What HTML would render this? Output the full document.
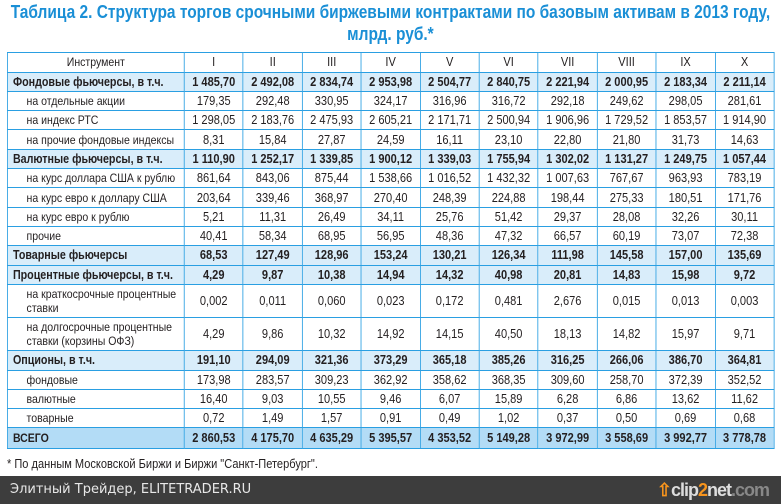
<!DOCTYPE html>
<html><head><meta charset="utf-8">
<style>
*{margin:0;padding:0;box-sizing:border-box}
body{width:781px;height:504px;background:#fff;position:relative;overflow:hidden;font-family:"Liberation Sans",sans-serif;color:#231f20}
.t{position:absolute;left:0;width:908px;transform:scaleX(0.86);transform-origin:0 0;text-align:center;color:#1a8fd6;font-weight:bold;font-size:18px;line-height:22px;top:1px;white-space:nowrap}
table{position:absolute;left:7px;top:52px;border-collapse:collapse;table-layout:fixed;width:902px;font-size:13px;transform:scaleX(0.85);transform-origin:0 0}
td{border:1px solid #2a9fe2;text-align:center;height:19.2px;padding:0;line-height:14px;white-space:nowrap;overflow:hidden}
td:first-child{text-align:left;padding-left:22px;font-size:12.4px}
tr.hd td{height:19.5px}
tr.h td{background:#d9edfa;font-weight:bold;height:19.6px}
tr.h td:first-child{padding-left:6px;font-size:12.6px}
tr.hd td:first-child{text-align:center;padding-left:0}
tr.tot td{background:#b3dcf6;font-weight:bold;height:21px}
tr.tot td:first-child{padding-left:6px}
tr.two td{height:33px}
.fn{position:absolute;left:7px;top:456px;font-size:13px;transform:scaleX(0.85);transform-origin:0 0;white-space:nowrap}
.bar{position:absolute;left:0;top:476px;width:781px;height:28px;background:#3d3d3d;color:#e8e8e8;font-family:"DejaVu Sans",sans-serif;font-size:13px;line-height:28px;padding-left:10px}
.logo{position:absolute;right:12px;top:0;font-family:"Liberation Sans",sans-serif;font-weight:bold;font-size:18px;color:#ddd;letter-spacing:-1px}
.logo b{color:#f7941d}
.logo span{color:#888}
</style></head><body>
<div class="t">Таблица 2. Структура торгов срочными биржевыми контрактами по базовым активам в 2013 году,<br>млрд. руб.*</div>
<table>
<colgroup><col style="width:208px"><col span="10" style="width:69.4px"></colgroup>
<tr class="hd"><td>Инструмент</td><td>I</td><td>II</td><td>III</td><td>IV</td><td>V</td><td>VI</td><td>VII</td><td>VIII</td><td>IX</td><td>X</td></tr>
<tr class="h"><td>Фондовые фьючерсы, в т.ч.</td><td>1 485,70</td><td>2 492,08</td><td>2 834,74</td><td>2 953,98</td><td>2 504,77</td><td>2 840,75</td><td>2 221,94</td><td>2 000,95</td><td>2 183,34</td><td>2 211,14</td></tr>
<tr><td>на отдельные акции</td><td>179,35</td><td>292,48</td><td>330,95</td><td>324,17</td><td>316,96</td><td>316,72</td><td>292,18</td><td>249,62</td><td>298,05</td><td>281,61</td></tr>
<tr><td>на индекс РТС</td><td>1 298,05</td><td>2 183,76</td><td>2 475,93</td><td>2 605,21</td><td>2 171,71</td><td>2 500,94</td><td>1 906,96</td><td>1 729,52</td><td>1 853,57</td><td>1 914,90</td></tr>
<tr><td>на прочие фондовые индексы</td><td>8,31</td><td>15,84</td><td>27,87</td><td>24,59</td><td>16,11</td><td>23,10</td><td>22,80</td><td>21,80</td><td>31,73</td><td>14,63</td></tr>
<tr class="h"><td>Валютные фьючерсы, в т.ч.</td><td>1 110,90</td><td>1 252,17</td><td>1 339,85</td><td>1 900,12</td><td>1 339,03</td><td>1 755,94</td><td>1 302,02</td><td>1 131,27</td><td>1 249,75</td><td>1 057,44</td></tr>
<tr><td>на курс доллара США к рублю</td><td>861,64</td><td>843,06</td><td>875,44</td><td>1 538,66</td><td>1 016,52</td><td>1 432,32</td><td>1 007,63</td><td>767,67</td><td>963,93</td><td>783,19</td></tr>
<tr><td>на курс евро к доллару США</td><td>203,64</td><td>339,46</td><td>368,97</td><td>270,40</td><td>248,39</td><td>224,88</td><td>198,44</td><td>275,33</td><td>180,51</td><td>171,76</td></tr>
<tr><td>на курс евро к рублю</td><td>5,21</td><td>11,31</td><td>26,49</td><td>34,11</td><td>25,76</td><td>51,42</td><td>29,37</td><td>28,08</td><td>32,26</td><td>30,11</td></tr>
<tr><td>прочие</td><td>40,41</td><td>58,34</td><td>68,95</td><td>56,95</td><td>48,36</td><td>47,32</td><td>66,57</td><td>60,19</td><td>73,07</td><td>72,38</td></tr>
<tr class="h"><td>Товарные фьючерсы</td><td>68,53</td><td>127,49</td><td>128,96</td><td>153,24</td><td>130,21</td><td>126,34</td><td>111,98</td><td>145,58</td><td>157,00</td><td>135,69</td></tr>
<tr class="h"><td>Процентные фьючерсы, в т.ч.</td><td>4,29</td><td>9,87</td><td>10,38</td><td>14,94</td><td>14,32</td><td>40,98</td><td>20,81</td><td>14,83</td><td>15,98</td><td>9,72</td></tr>
<tr class="two"><td>на краткосрочные процентные<br>ставки</td><td>0,002</td><td>0,011</td><td>0,060</td><td>0,023</td><td>0,172</td><td>0,481</td><td>2,676</td><td>0,015</td><td>0,013</td><td>0,003</td></tr>
<tr class="two"><td>на долгосрочные процентные<br>ставки (корзины ОФЗ)</td><td>4,29</td><td>9,86</td><td>10,32</td><td>14,92</td><td>14,15</td><td>40,50</td><td>18,13</td><td>14,82</td><td>15,97</td><td>9,71</td></tr>
<tr class="h"><td>Опционы, в т.ч.</td><td>191,10</td><td>294,09</td><td>321,36</td><td>373,29</td><td>365,18</td><td>385,26</td><td>316,25</td><td>266,06</td><td>386,70</td><td>364,81</td></tr>
<tr><td>фондовые</td><td>173,98</td><td>283,57</td><td>309,23</td><td>362,92</td><td>358,62</td><td>368,35</td><td>309,60</td><td>258,70</td><td>372,39</td><td>352,52</td></tr>
<tr><td>валютные</td><td>16,40</td><td>9,03</td><td>10,55</td><td>9,46</td><td>6,07</td><td>15,89</td><td>6,28</td><td>6,86</td><td>13,62</td><td>11,62</td></tr>
<tr><td>товарные</td><td>0,72</td><td>1,49</td><td>1,57</td><td>0,91</td><td>0,49</td><td>1,02</td><td>0,37</td><td>0,50</td><td>0,69</td><td>0,68</td></tr>
<tr class="tot"><td>ВСЕГО</td><td>2 860,53</td><td>4 175,70</td><td>4 635,29</td><td>5 395,57</td><td>4 353,52</td><td>5 149,28</td><td>3 972,99</td><td>3 558,69</td><td>3 992,77</td><td>3 778,78</td></tr>
</table>
<div class="fn">* По данным Московской Биржи и Биржи "Санкт-Петербург".</div>
<div class="bar">Элитный Трейдер, ELITETRADER.RU<div class="logo"><span style="color:#f7941d">⇧</span>clip<b>2</b>net<span>.com</span></div></div>
</body></html>
